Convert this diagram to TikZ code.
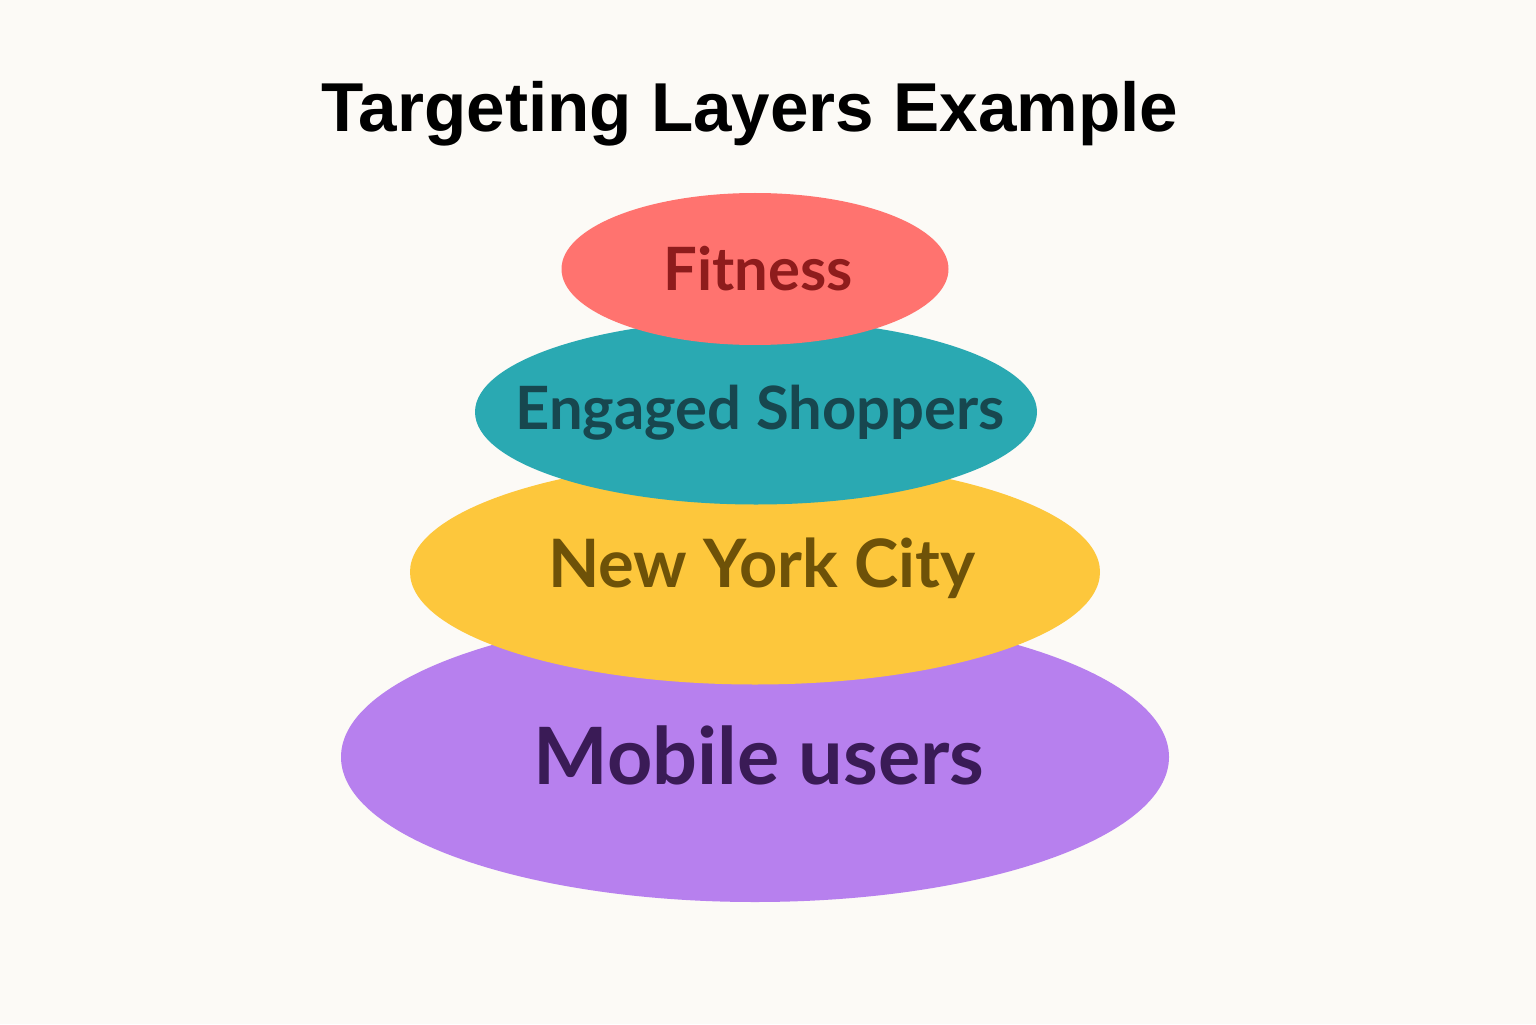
\documentclass[tikz,border=0pt]{standalone}
\usepackage{fontspec}
\setmainfont{Lato}
\newfontfamily\titlefont{Liberation Sans}
\usepackage{xcolor}
\usetikzlibrary{shapes.geometric}

\definecolor{paper}{HTML}{FCFAF6}
\definecolor{mobilefill}{HTML}{B780EE}
\definecolor{mobiletext}{HTML}{3A1B56}
\definecolor{cityfill}{HTML}{FDC73C}
\definecolor{citytext}{HTML}{6E5208}
\definecolor{shopfill}{HTML}{2AA9B2}
\definecolor{shoptext}{HTML}{17474F}
\definecolor{fitfill}{HTML}{FF736F}
\definecolor{fittext}{HTML}{8E1C1C}

\begin{document}
\begin{tikzpicture}[
  layer/.style={ellipse, inner sep=0pt, draw=none},
  label/.style={font=\bfseries}
]
\fill[paper] (0,0) rectangle (15.36,10.24);
\useasboundingbox (0,0) rectangle (15.36,10.24);

% title
\node (title) at (7.50,9.10) {\titlefont\bfseries\fontsize{19.7}{24}\selectfont Targeting Layers Example};

% layers, bottom to top
\node[layer, fill=mobilefill, minimum width=8.28cm, minimum height=2.90cm] (mobile) at (7.55,2.67) {};
\node[layer, fill=cityfill, minimum width=6.90cm, minimum height=2.25cm] (city) at (7.55,4.52) {};
\node[layer, fill=shopfill, minimum width=5.62cm, minimum height=1.85cm] (shop) at (7.56,6.12) {};
\node[layer, fill=fitfill, minimum width=3.87cm, minimum height=1.52cm] (fit) at (7.55,7.55) {};

\node[label, text=mobiletext, font=\bfseries\fontsize{22.5}{26}\selectfont] (mobilelbl) at (7.59,2.69) {Mobile users};
\node[label, text=citytext, font=\bfseries\fontsize{19}{23}\selectfont] (citylbl) at (7.62,4.56) {New York City};
\node[label, text=shoptext, font=\bfseries\fontsize{17}{20}\selectfont] (shoplbl) at (7.60,6.11) {Engaged Shoppers};
\node[label, text=fittext, font=\bfseries\fontsize{17}{21}\selectfont] (fitlbl) at (7.58,7.55) {Fitness};
\end{tikzpicture}
\end{document}
